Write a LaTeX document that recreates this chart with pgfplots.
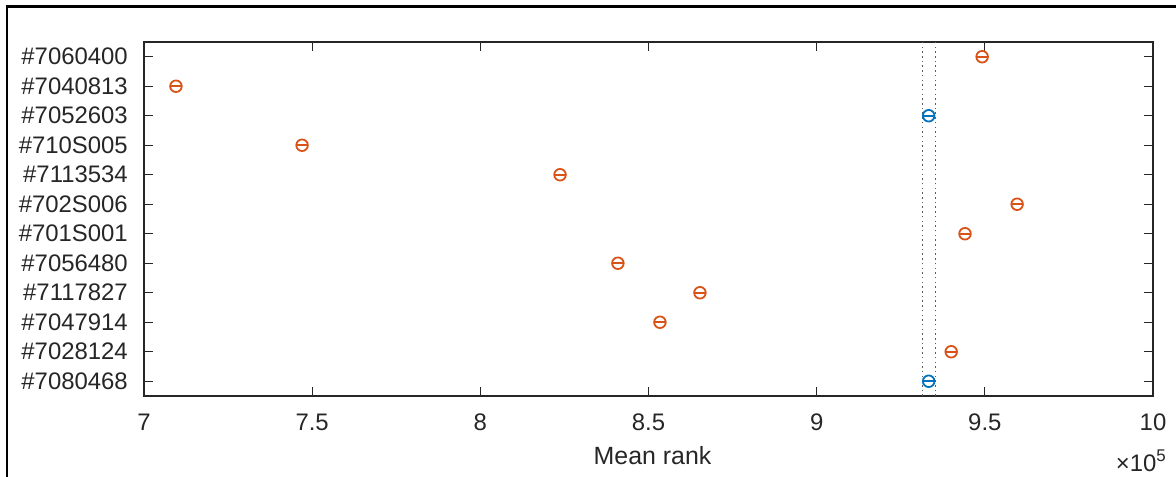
\documentclass[border=0pt]{standalone}
\usepackage{pgfplots}
\pgfplotsset{compat=1.18}
\usepackage{fontspec}
\setmainfont{Liberation Sans}
\definecolor{mOrange}{rgb}{0.85,0.325,0.098}
\definecolor{mBlue}{rgb}{0,0.447,0.741}
\definecolor{mAxis}{rgb}{0.15,0.15,0.15}
\begin{document}
\begin{tikzpicture}[x=1bp,y=1bp]
\useasboundingbox (0,0) rectangle (1176,477);
\draw[line width=2.5bp,black] (7,0) -- (7,470.5) -- (1176,470.5);
\begin{axis}[
  at={(144bp,81bp)}, anchor=south west,
  scale only axis, width=1009bp, height=354bp,
  xmin=700000, xmax=1000000, ymin=0.5, ymax=12.5,
  axis line style={mAxis, line width=1.2bp},
  tick style={mAxis, line width=1.2bp},
  tick align=inside, xtick pos=both, ytick pos=both,
  major tick length=9bp,
  xtick={700000,750000,800000,850000,900000,950000,1000000},
  xticklabels={7,7.5,8,8.5,9,9.5,10},
  scaled x ticks=false,
  ytick={1,2,3,4,5,6,7,8,9,10,11,12},
  yticklabels={\#7080468,\#7028124,\#7047914,\#7117827,\#7056480,\#701S001,\#702S006,\#7113534,\#710S005,\#7052603,\#7040813,\#7060400},
  ticklabel style={font=\fontsize{24}{28}\selectfont, text=mAxis},
  yticklabel style={inner sep=0pt, anchor=east, xshift=-16bp},
  xticklabel style={inner sep=0pt, anchor=north, yshift=-18bp},
  xlabel={Mean rank},
  xlabel style={font=\fontsize{25}{30}\selectfont, text=mAxis, at={(axis description cs:0.5,0)}, anchor=base, yshift=-69bp, xshift=4bp, inner sep=0pt},
  clip=false,
]
% comparison-interval bounds of the selected group (dotted)
\addplot[mAxis!75, line width=1.5bp, dash pattern=on 1.5bp off 3.2bp] coordinates {(931500,0.5) (931500,12.5)};
\addplot[mAxis!75, line width=1.5bp, dash pattern=on 1.5bp off 3.2bp] coordinates {(935400,0.5) (935400,12.5)};
% groups significantly different (orange)
\addplot[only marks, mark=o, mark size=5.8bp, color=mOrange, line width=1.8bp,
  error bars/.cd, x dir=both, x fixed=1700, error mark=none,
  error bar style={line width=1.6bp, mOrange}] coordinates {
  (949200,12) (709500,11) (747000,9) (823700,8) (959600,7) (944100,6)
  (840900,5) (865300,4) (853400,3) (940000,2)
};
% groups not significantly different (blue)
\addplot[only marks, mark=o, mark size=5.8bp, color=mBlue, line width=1.8bp,
  error bars/.cd, x dir=both, x fixed=1700, error mark=none,
  error bar style={line width=1.6bp, mBlue}] coordinates {
  (933300,10) (933300,1)
};
\node[anchor=base east, inner sep=0pt, text=mAxis, font=\fontsize{24}{28}\selectfont] at (rel axis cs:1,0) [xshift=13bp, yshift=-76bp] {×10\raisebox{10bp}{\fontsize{17}{20}\selectfont 5}};
\end{axis}
\end{tikzpicture}
\end{document}
